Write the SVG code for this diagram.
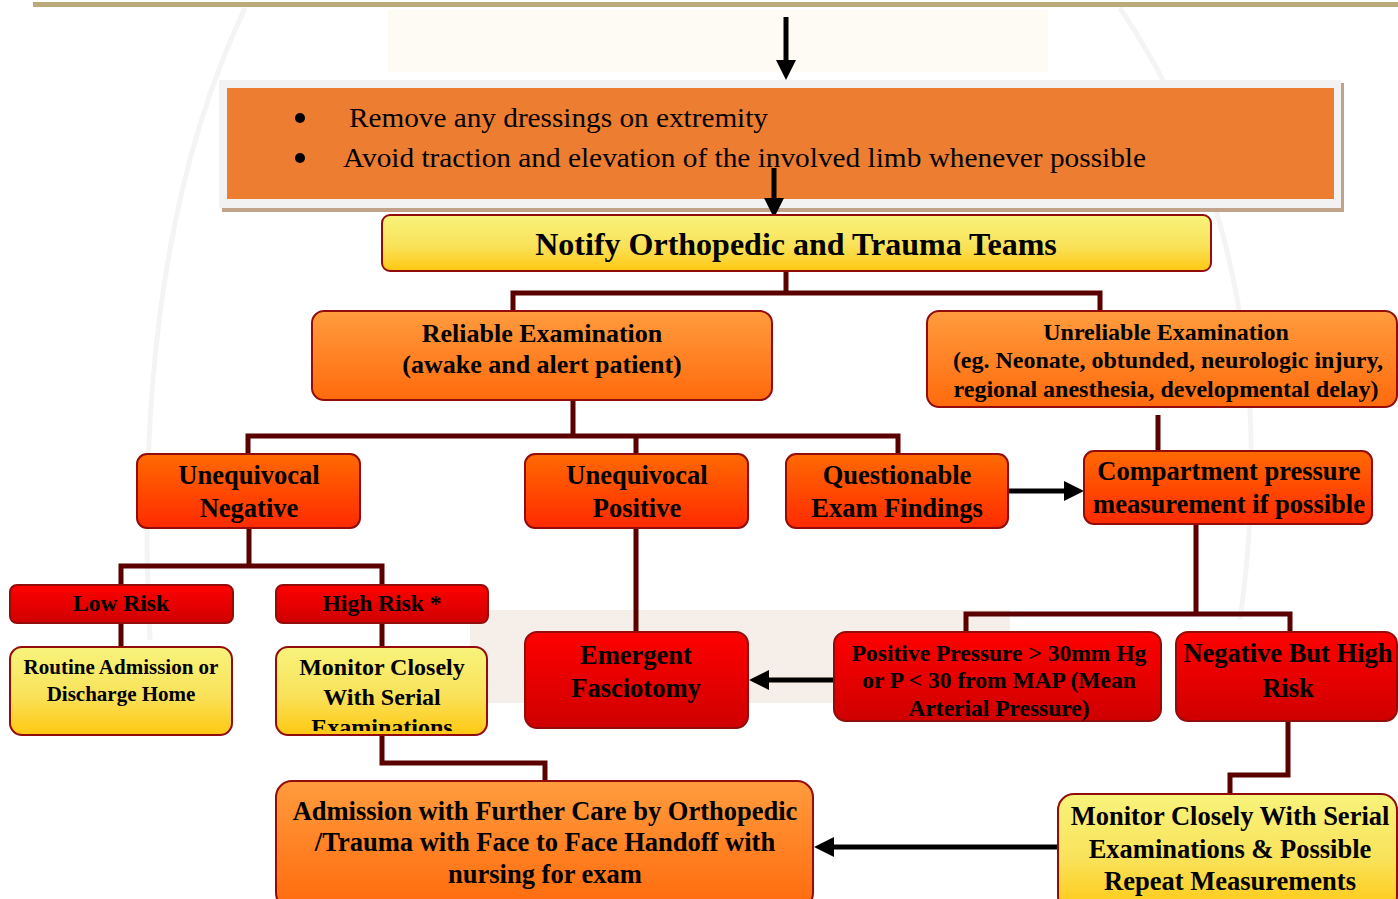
<svg xmlns="http://www.w3.org/2000/svg" width="1398" height="899" viewBox="0 0 1398 899">
  <style>
    .box { stroke: #920C0C; stroke-width: 2; }
    .t { font-family: "Liberation Serif", "Times New Roman", serif; font-weight: bold; text-anchor: middle; fill: #000; }
    .b { font-family: "Liberation Serif", "Times New Roman", serif; fill: #000; font-size: 28px; }
    .link { fill: none; stroke: #5A0000; stroke-width: 5; stroke-linejoin: miter; }
    .arrow { fill: none; stroke: #000; stroke-width: 5; marker-end: url(#ah); }
    .wm { fill: none; stroke: #E6E6E6; stroke-width: 5; opacity: 0.45; }
  </style>
  <defs>
    <linearGradient id="gYellow" x1="0" y1="0" x2="0" y2="1">
      <stop offset="0" stop-color="#F8F37C"/>
      <stop offset="0.55" stop-color="#F9E25A"/>
      <stop offset="1" stop-color="#FFC812"/>
    </linearGradient>
    <linearGradient id="gOrange" x1="0" y1="0" x2="0" y2="1">
      <stop offset="0" stop-color="#FF9C3E"/>
      <stop offset="1" stop-color="#FF6A0C"/>
    </linearGradient>
    <linearGradient id="gOrangeRed" x1="0" y1="0" x2="0" y2="1">
      <stop offset="0" stop-color="#FF6A02"/>
      <stop offset="1" stop-color="#FF2A00"/>
    </linearGradient>
    <linearGradient id="gRed" x1="0" y1="0" x2="0" y2="1">
      <stop offset="0" stop-color="#FF0000"/>
      <stop offset="1" stop-color="#CF0000"/>
    </linearGradient>
    <marker id="ah" viewBox="0 0 20 20" refX="14" refY="10" markerWidth="20" markerHeight="22" markerUnits="userSpaceOnUse" orient="auto">
      <path d="M0,0 L20,10 L0,20 z" fill="#000"/>
    </marker>
    <clipPath id="clipMonitor">
      <rect x="276" y="647" width="211" height="84"/>
    </clipPath>
  </defs>

  <rect width="1398" height="899" fill="#FFFFFF"/>

  <!-- faint background seal -->
  <g id="watermark">
    <rect x="388" y="10" width="660" height="62" fill="#FEF9EF" opacity="0.7"/>
    <rect x="470" y="610" width="540" height="93" fill="#F3E9E1" opacity="0.75"/>
    <path class="wm" d="M245,8 Q130,250 150,640"/>
    <path class="wm" d="M1120,8 Q1290,260 1240,620"/>
  </g>

  <!-- header rule -->
  <line x1="33" y1="4.5" x2="1398" y2="4.5" stroke="#BCAA7B" stroke-width="5"/>

  <!-- instructions panel -->
  <g id="instructions">
    <rect x="222" y="83" width="1122" height="129" fill="#C2A38A"/>
    <rect x="219" y="80" width="1122" height="128" fill="#F2F2F2"/>
    <rect x="227" y="88" width="1107" height="111" fill="#ED7D31"/>
    <circle cx="300" cy="118" r="5" fill="#000"/>
    <circle cx="300" cy="158" r="5" fill="#000"/>
    <text class="b" x="349" y="127" textLength="419" lengthAdjust="spacingAndGlyphs">Remove any dressings on extremity</text>
    <text class="b" x="343" y="167" textLength="803" lengthAdjust="spacingAndGlyphs">Avoid traction and elevation of the involved limb whenever possible</text>
  </g>

  <!-- connectors -->
  <g id="connectors">
    <path class="link" d="M786,271 V293"/>
    <path class="link" d="M513,311 V293 H1100 V311"/>
    <path class="link" d="M573,400 V436"/>
    <path class="link" d="M248,455 V436 H898 V455"/>
    <path class="link" d="M636,436 V455"/>
    <path class="link" d="M1158,415 V451"/>
    <path class="link" d="M249,528 V566"/>
    <path class="link" d="M121,585 V566 H382 V585"/>
    <path class="link" d="M121,623 V647"/>
    <path class="link" d="M382,623 V647"/>
    <path class="link" d="M382,735 V763 H545 V781"/>
    <path class="link" d="M636,528 V632"/>
    <path class="link" d="M1196,524 V614"/>
    <path class="link" d="M966,632 V614 H1290 V632"/>
    <path class="link" d="M1288,721 V775 H1230 V794"/>
    <line class="arrow" x1="786" y1="17" x2="786" y2="74"/>
    <line class="arrow" x1="774" y1="168" x2="774" y2="212"/>
    <line class="arrow" x1="1009" y1="491" x2="1078" y2="491"/>
    <line class="arrow" x1="834" y1="680" x2="755" y2="680"/>
    <line class="arrow" x1="1058" y1="847" x2="820" y2="847"/>
  </g>

  <g id="notify">
    <rect class="box" x="382" y="215" width="829" height="56" rx="8" fill="url(#gYellow)"/>
    <text class="t" x="796" y="255" font-size="32">Notify Orthopedic and Trauma Teams</text>
  </g>

  <g id="reliable">
    <rect class="box" x="312" y="311" width="460" height="89" rx="12" fill="url(#gOrange)"/>
    <text class="t" x="542" y="342" font-size="26">Reliable Examination</text>
    <text class="t" x="542" y="373" font-size="26">(awake and alert patient)</text>
  </g>

  <g id="unreliable">
    <rect class="box" x="927" y="311" width="470" height="96" rx="12" fill="url(#gOrange)"/>
    <text class="t" x="1166" y="340" font-size="24">Unreliable Examination</text>
    <text class="t" x="1168" y="368" font-size="24">(eg. Neonate, obtunded, neurologic injury,</text>
    <text class="t" x="1166" y="397" font-size="24">regional anesthesia, developmental delay)</text>
  </g>

  <g id="unequivocal-negative">
    <rect class="box" x="137" y="454" width="223" height="74" rx="10" fill="url(#gOrangeRed)"/>
    <text class="t" x="249" y="484" font-size="26.5">Unequivocal</text>
    <text class="t" x="249" y="517" font-size="26.5">Negative</text>
  </g>

  <g id="unequivocal-positive">
    <rect class="box" x="525" y="454" width="223" height="74" rx="10" fill="url(#gOrangeRed)"/>
    <text class="t" x="637" y="484" font-size="26.5">Unequivocal</text>
    <text class="t" x="637" y="517" font-size="26.5">Positive</text>
  </g>

  <g id="questionable">
    <rect class="box" x="786" y="454" width="222" height="74" rx="10" fill="url(#gOrangeRed)"/>
    <text class="t" x="897" y="484" font-size="26.5">Questionable</text>
    <text class="t" x="897" y="517" font-size="26.5">Exam Findings</text>
  </g>

  <g id="compartment">
    <rect class="box" x="1084" y="451" width="288" height="73" rx="10" fill="url(#gOrangeRed)"/>
    <text class="t" x="1229" y="480" font-size="26.5">Compartment pressure</text>
    <text class="t" x="1229" y="513" font-size="26.5">measurement if possible</text>
  </g>

  <g id="low-risk">
    <rect class="box" x="10" y="585" width="223" height="38" rx="7" fill="url(#gRed)"/>
    <text class="t" x="121" y="611" font-size="23.5">Low Risk</text>
  </g>

  <g id="high-risk">
    <rect class="box" x="276" y="585" width="212" height="38" rx="7" fill="url(#gRed)"/>
    <text class="t" x="382" y="611" font-size="23.5">High Risk *</text>
  </g>

  <g id="routine">
    <rect class="box" x="10" y="647" width="222" height="88" rx="12" fill="url(#gYellow)"/>
    <text class="t" x="121" y="674" font-size="21">Routine Admission or</text>
    <text class="t" x="121" y="701" font-size="21">Discharge Home</text>
  </g>

  <g id="monitor-serial">
    <rect class="box" x="276" y="647" width="211" height="88" rx="12" fill="url(#gYellow)"/>
    <g clip-path="url(#clipMonitor)">
      <text class="t" x="382" y="675" font-size="24">Monitor Closely</text>
      <text class="t" x="382" y="705" font-size="24">With Serial</text>
      <text class="t" x="382" y="735" font-size="24">Examinations</text>
    </g>
  </g>

  <g id="emergent">
    <rect class="box" x="525" y="632" width="223" height="96" rx="12" fill="url(#gRed)"/>
    <text class="t" x="636" y="664" font-size="26.5">Emergent</text>
    <text class="t" x="636" y="697" font-size="26.5">Fasciotomy</text>
  </g>

  <g id="positive-pressure">
    <rect class="box" x="834" y="632" width="327" height="89" rx="12" fill="url(#gRed)"/>
    <text class="t" x="999" y="661" font-size="23.5">Positive Pressure &gt; 30mm Hg</text>
    <text class="t" x="999" y="688" font-size="23.5">or P &lt; 30 from MAP (Mean</text>
    <text class="t" x="999" y="716" font-size="23.5">Arterial Pressure)</text>
  </g>

  <g id="negative-high-risk">
    <rect class="box" x="1176" y="632" width="221" height="89" rx="12" fill="url(#gRed)"/>
    <text class="t" x="1288" y="662" font-size="26.5">Negative But High</text>
    <text class="t" x="1288" y="697" font-size="26.5">Risk</text>
  </g>

  <g id="admission">
    <rect class="box" x="276" y="781" width="537" height="128" rx="16" fill="url(#gOrange)"/>
    <text class="t" x="545" y="820" font-size="26.5">Admission with Further Care by Orthopedic</text>
    <text class="t" x="545" y="851" font-size="26.5">/Trauma with Face to Face Handoff with</text>
    <text class="t" x="545" y="883" font-size="26.5">nursing for exam</text>
  </g>

  <g id="monitor-repeat">
    <rect class="box" x="1058" y="794" width="339" height="118" rx="16" fill="url(#gYellow)"/>
    <text class="t" x="1230" y="825" font-size="26.5">Monitor Closely With Serial</text>
    <text class="t" x="1230" y="858" font-size="26.5">Examinations &amp; Possible</text>
    <text class="t" x="1230" y="890" font-size="26.5">Repeat Measurements</text>
  </g>
</svg>
